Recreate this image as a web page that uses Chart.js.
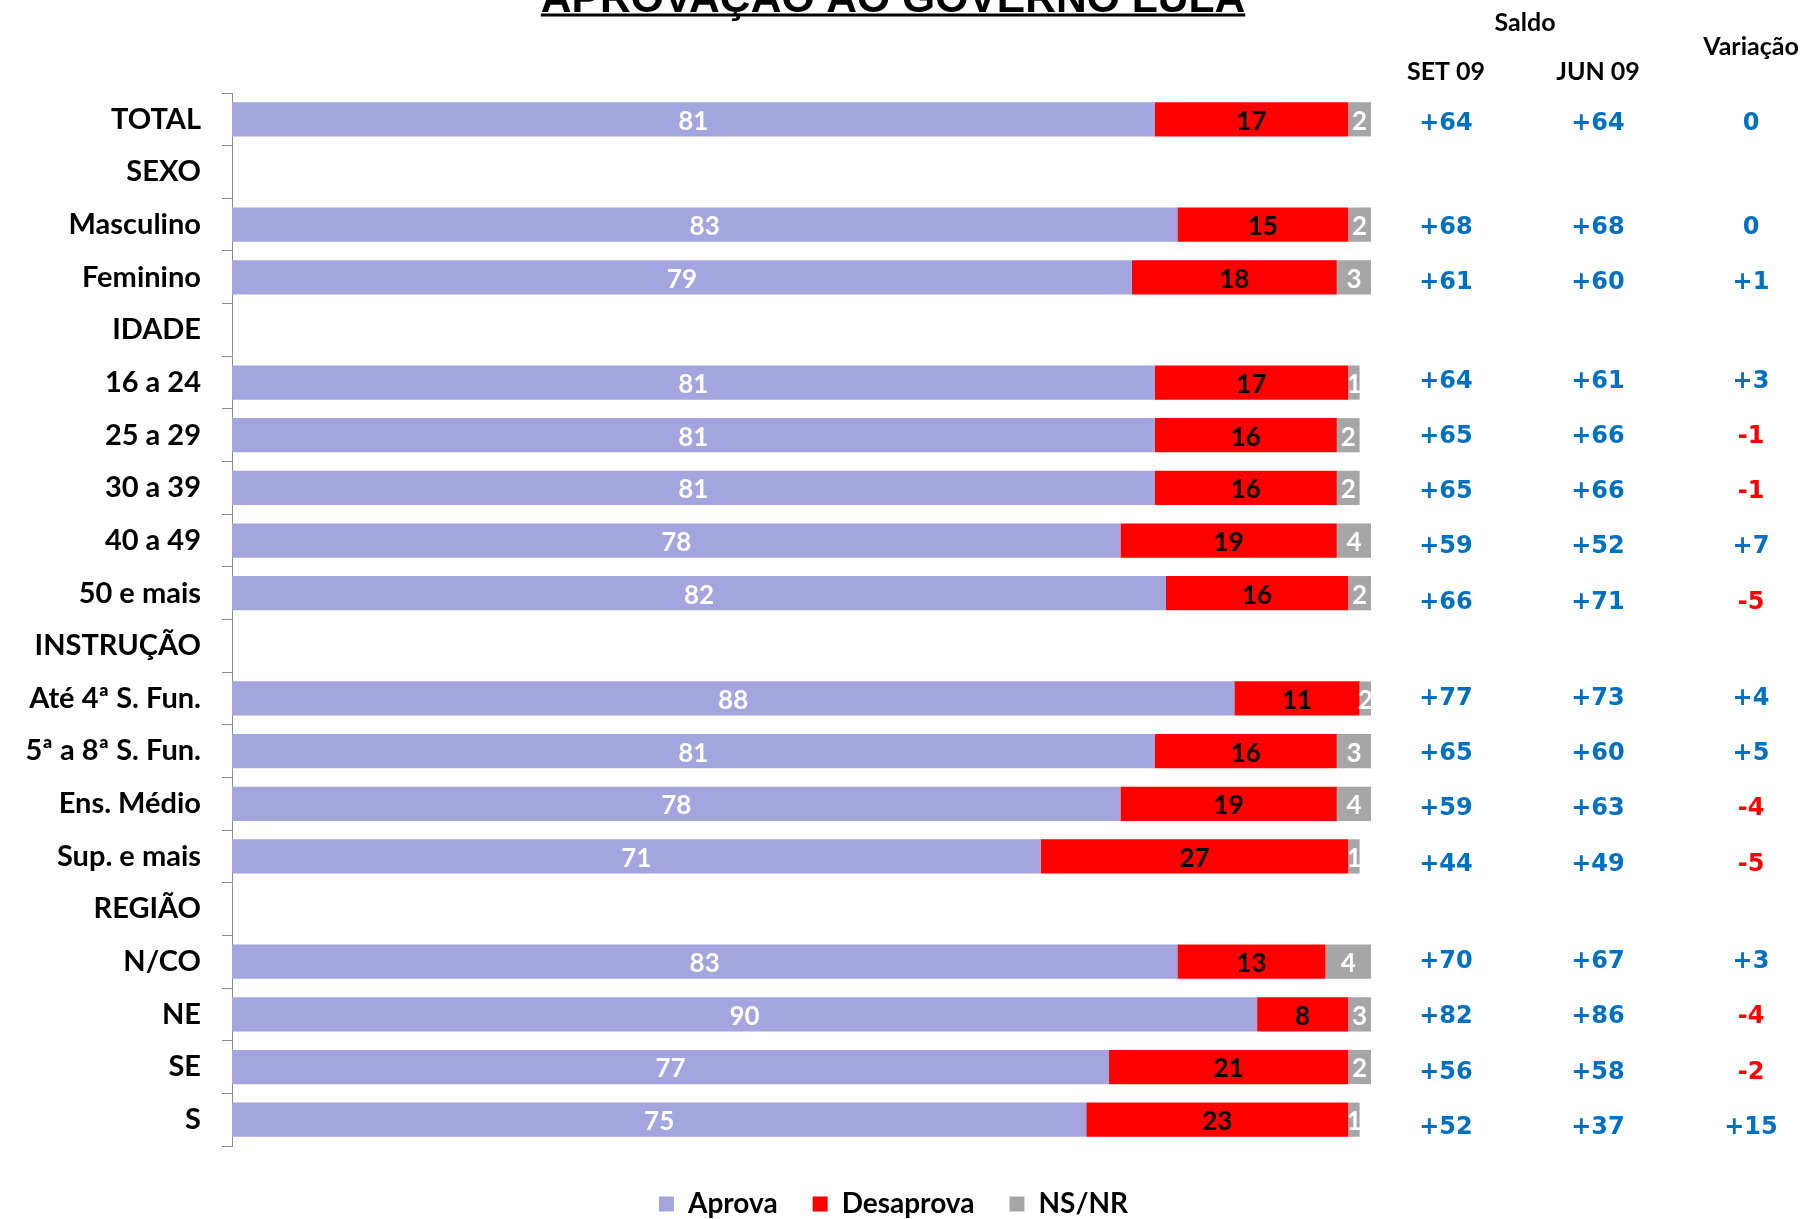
<!DOCTYPE html>
<html>
<head>
<meta charset="utf-8">
<script src="https://cdn.jsdelivr.net/npm/chart.js@4.4.0/dist/chart.umd.min.js"></script>
<style>
  html,body{margin:0;padding:0;background:#fff;}
  canvas{display:block;}
</style>
</head>
<body>
<canvas id="grafico" width="1805" height="1219"></canvas>
<script>
// Segmentos (linhas sem barra = títulos de grupo)
const categorias = ["TOTAL","SEXO","Masculino","Feminino","IDADE","16 a 24","25 a 29","30 a 39","40 a 49","50 e mais",
  "INSTRUÇÃO","Até 4ª S. Fun.","5ª a 8ª S. Fun.","Ens. Médio","Sup. e mais","REGIÃO","N/CO","NE","SE","S"];

// Avaliação (%)
const aprova    = [81,null,83,79,null,81,81,81,78,82,null,88,81,78,71,null,83,90,77,75];
const desaprova = [17,null,15,18,null,17,16,16,19,16,null,11,16,19,27,null,13,8,21,23];
const nsnr      = [2,null,2,3,null,1,2,2,4,2,null,2,3,4,1,null,4,3,2,1];

// Saldo (aprova - desaprova) e variação
const saldoSet  = [64,null,68,61,null,64,65,65,59,66,null,77,65,59,44,null,70,82,56,52];
const saldoJun  = [64,null,68,60,null,61,66,66,52,71,null,73,60,63,49,null,67,86,58,37];
const variacao  = [0,null,0,1,null,3,-1,-1,7,-5,null,4,5,-4,-5,null,3,-4,-2,15];

const fonte = "Lato, 'Open Sans', sans-serif";

function fmt(v){ return v>0 ? "+"+v : String(v); }

// valores dentro das barras
const rotulos = {
  id:"rotulos",
  afterDatasetsDraw(c){
    const g=c.ctx, area=c.chartArea;
    const cores=["#ffffff","#000000","#ffffff"];
    g.save();
    g.font="bold 26px "+fonte;
    g.textAlign="center"; g.textBaseline="middle";
    c.data.datasets.forEach((ds,d)=>{
      c.getDatasetMeta(d).data.forEach((bar,i)=>{
        const v=ds.data[i]; if(v==null) return;
        const fim=Math.min(bar.x, area.right);
        g.fillStyle=cores[d];
        g.fillText(String(v),(fim+bar.base)/2,bar.y+2);
      });
    });
    g.restore();
  }
};

// tabela de saldo à direita (linhas um pouco mais espaçadas que as barras, por grupo)
const tabela = {
  id:"tabela",
  afterDraw(c){
    const g=c.ctx, y=c.scales.y;
    const passo=y.getPixelForValue(1)-y.getPixelForValue(0);
    g.save();
    g.textAlign="center"; g.textBaseline="middle";
    g.fillStyle="#000";
    g.font="bold 25px "+fonte;
    g.fillText("Saldo",1525,23);
    g.fillText("SET 09",1446,72);
    g.fillText("JUN 09",1598,72);
    g.fillText("Variação",1751,47);
    g.font="bold 24px 'DejaVu Sans'";
    let i=0;
    while(i<categorias.length){
      if(saldoSet[i]==null){ i++; continue; }
      let fim=i; while(fim+1<categorias.length && saldoSet[fim+1]!=null) fim++;
      const meio=(i+fim)/2;
      for(let k=i;k<=fim;k++){
        const py=y.getPixelForValue(k)+(k-meio)*passo*0.05+4;
        g.fillStyle="#0070C0";
        g.fillText(fmt(saldoSet[k]),1446,py);
        g.fillText(fmt(saldoJun[k]),1598,py);
        g.fillStyle=variacao[k]<0?"#FF0000":"#0070C0";
        g.fillText(fmt(variacao[k]),1751,py);
      }
      i=fim+1;
    }
    g.restore();
  }
};

// título sublinhado
const titulo = {
  id:"titulo",
  afterDraw(c){
    const g=c.ctx, t="APROVAÇÃO AO GOVERNO LULA";
    g.save();
    g.font="bold 42.6px 'Liberation Sans', Arial, sans-serif";
    g.textAlign="center"; g.textBaseline="alphabetic"; g.fillStyle="#000";
    g.fillText(t,893,12);
    const w=g.measureText(t).width;
    g.fillRect(893-w/2,13.5,w,3);
    g.restore();
  }
};

new Chart(document.getElementById("grafico"),{
  type:"bar",
  data:{
    labels:categorias,
    datasets:[
      {label:"Aprova", data:aprova, backgroundColor:"#A4A4DE"},
      {label:"Desaprova", data:desaprova, backgroundColor:"#FF0000"},
      {label:"NS/NR", data:nsnr, backgroundColor:"#A6A6A6"}
    ]
  },
  options:{
    indexAxis:"y",
    responsive:false,
    animation:false,
    datasets:{bar:{barPercentage:0.65, categoryPercentage:1}},
    layout:{padding:{top:93,left:0,right:18,bottom:-9}},
    scales:{
      x:{
        stacked:true,min:0,max:100,
        afterFit(s){ s.height=9; },
        grid:{display:false}, border:{display:false}, ticks:{display:false}
      },
      y:{
        stacked:true,
        afterFit(s){ s.width=232; },
        grid:{offset:true,drawOnChartArea:false,tickLength:10,color:"#8c8c8c"},
        border:{color:"#8c8c8c"},
        ticks:{padding:21,color:"#000",font:{family:fonte,weight:"bold",size:29}}
      },
      // espaço reservado para a tabela
      yDir:{
        type:"category", position:"right", labels:categorias,
        afterFit(s){ s.width=416; },
        grid:{display:false}, border:{display:false}, ticks:{display:false}
      }
    },
    plugins:{
      legend:{
        position:"bottom",
        labels:{boxWidth:15,boxHeight:15,padding:35,color:"#000",font:{family:fonte,size:28,weight:"bold"}}
      },
      tooltip:{enabled:false}
    }
  },
  plugins:[rotulos,tabela,titulo]
});
</script>
</body>
</html>
